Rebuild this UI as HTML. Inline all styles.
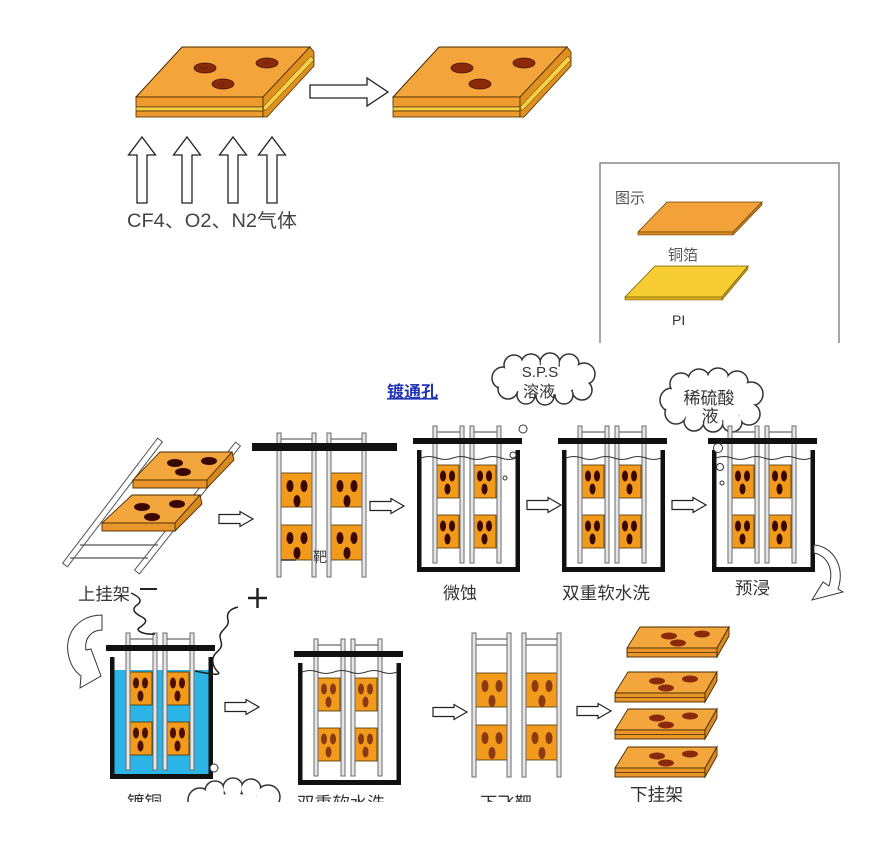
<!DOCTYPE html>
<html><head><meta charset="utf-8"><style>
html,body{margin:0;padding:0;background:#fff;}
svg{display:block;}
text{font-family:"Liberation Sans","Noto Sans CJK SC",sans-serif;}
</style></head><body>
<svg width="885" height="844" viewBox="0 0 885 844" xmlns="http://www.w3.org/2000/svg">
<defs>
 <g id="bigboard">
  <polygon points="182,47 310,47 263,97 136,97" fill="#F3A53C" stroke="#4a2a00" stroke-width="1"/>
  <rect x="136" y="97" width="127" height="10" fill="#EE9A2C" stroke="#4a2a00" stroke-width="0.8"/>
  <rect x="136" y="107" width="127" height="4" fill="#F5CF45" stroke="#4a2a00" stroke-width="0.6"/>
  <rect x="136" y="111" width="127" height="6" fill="#EE9A2C" stroke="#4a2a00" stroke-width="0.8"/>
  <polygon points="263,97 310,47 314,52 314,66 267,117 263,117" fill="#E0901F" stroke="#4a2a00" stroke-width="0.8"/>
  <polygon points="263,107 311,56 314,60 265,111" fill="#F5CF45" stroke="#4a2a00" stroke-width="0.5"/>
  <ellipse cx="205" cy="68" rx="11" ry="5" fill="#8B2A0A" stroke="#4a1500" stroke-width="0.8"/>
  <ellipse cx="267" cy="63" rx="11" ry="5" fill="#8B2A0A" stroke="#4a1500" stroke-width="0.8"/>
  <ellipse cx="223" cy="84" rx="11" ry="5" fill="#8B2A0A" stroke="#4a1500" stroke-width="0.8"/>
 </g>
 <g id="tank">
  <g stroke="#4a3000" stroke-width="0.8" fill="#F29A1C">
   <rect x="18" y="27" width="24" height="33"/>
   <rect x="55" y="27" width="24" height="33"/>
   <rect x="18" y="77" width="24" height="33"/>
   <rect x="55" y="77" width="24" height="33"/>
  </g>
  <g>
   <ellipse cx="26" cy="38" rx="3" ry="5.5"/><ellipse cx="35" cy="38" rx="3" ry="5.5"/><ellipse cx="30.5" cy="51" rx="3" ry="5.5"/>
   <ellipse cx="63" cy="38" rx="3" ry="5.5"/><ellipse cx="72" cy="38" rx="3" ry="5.5"/><ellipse cx="67.5" cy="51" rx="3" ry="5.5"/>
   <ellipse cx="26" cy="88" rx="3" ry="5.5"/><ellipse cx="35" cy="88" rx="3" ry="5.5"/><ellipse cx="30.5" cy="101" rx="3" ry="5.5"/>
   <ellipse cx="63" cy="88" rx="3" ry="5.5"/><ellipse cx="72" cy="88" rx="3" ry="5.5"/><ellipse cx="67.5" cy="101" rx="3" ry="5.5"/>
  </g>
  <g fill="#e6e6e6" stroke="#6a6a6a" stroke-width="1">
   <rect x="16" y="-12" width="4" height="137"/>
   <rect x="43" y="-12" width="4" height="137"/>
   <rect x="53" y="-12" width="4" height="137"/>
   <rect x="80" y="-12" width="4" height="137"/>
  </g>
  <g stroke="#6a6a6a" stroke-width="1.2">
   <line x1="20" y1="-6" x2="43" y2="-6"/><line x1="57" y1="-6" x2="80" y2="-6"/>
  </g>
  <rect x="-4" y="0" width="109" height="6" fill="#111"/>
  <rect x="0" y="12" width="4.5" height="122" fill="#111"/>
  <rect x="98.5" y="12" width="4.5" height="122" fill="#111"/>
  <rect x="0" y="129" width="103" height="5" fill="#111"/>
 </g>
 <g id="rack">
  <g stroke="#4a3000" stroke-width="0.8" fill="#F29A1C">
   <rect x="3" y="40" width="32" height="34"/>
   <rect x="53" y="40" width="32" height="34"/>
   <rect x="3" y="92" width="32" height="35"/>
   <rect x="53" y="92" width="32" height="35"/>
  </g>
  <g>
   <ellipse cx="13" cy="53" rx="3.5" ry="6"/><ellipse cx="27" cy="53" rx="3.5" ry="6"/><ellipse cx="20" cy="68" rx="3.5" ry="6"/>
   <ellipse cx="63" cy="53" rx="3.5" ry="6"/><ellipse cx="77" cy="53" rx="3.5" ry="6"/><ellipse cx="70" cy="68" rx="3.5" ry="6"/>
   <ellipse cx="13" cy="105" rx="3.5" ry="6"/><ellipse cx="27" cy="105" rx="3.5" ry="6"/><ellipse cx="20" cy="120" rx="3.5" ry="6"/>
   <ellipse cx="63" cy="105" rx="3.5" ry="6"/><ellipse cx="77" cy="105" rx="3.5" ry="6"/><ellipse cx="70" cy="120" rx="3.5" ry="6"/>
  </g>
  <g fill="#e6e6e6" stroke="#6a6a6a" stroke-width="1">
   <rect x="0" y="0" width="4" height="144"/>
   <rect x="35" y="0" width="4" height="144"/>
   <rect x="50" y="0" width="4" height="144"/>
   <rect x="85" y="0" width="4" height="144"/>
  </g>
  <g stroke="#6a6a6a" stroke-width="1.2">
   <line x1="4" y1="6" x2="35" y2="6"/><line x1="54" y1="6" x2="85" y2="6"/>
   <line x1="4" y1="12" x2="35" y2="12"/><line x1="54" y1="12" x2="85" y2="12"/>
  </g>
 </g>
 <g id="sboard">
  <polygon points="13,0 102,0 90,21 0,21" fill="#F3A63C" stroke="#4a2a00" stroke-width="0.9"/>
  <rect x="0" y="21" width="90" height="9" fill="#E8962A" stroke="#4a2a00" stroke-width="0.9"/>
  <line x1="0" y1="25.5" x2="90" y2="25.5" stroke="#4a2a00" stroke-width="0.8"/>
  <polygon points="90,21 102,0 102,9 90,30" fill="#D88A22" stroke="#4a2a00" stroke-width="0.9"/>
  <ellipse cx="42" cy="9" rx="8" ry="3.5" fill="#8B2A0A"/>
  <ellipse cx="75" cy="7" rx="8" ry="3.5" fill="#8B2A0A"/>
  <ellipse cx="51" cy="16" rx="8" ry="3.5" fill="#8B2A0A"/>
 </g>
</defs>

<rect width="885" height="844" fill="#fff"/>

<!-- ===== TOP SECTION ===== -->
<use href="#bigboard"/>
<use href="#bigboard" x="257"/>
<g stroke="#5a2000" stroke-width="0.8" fill="none">
 <path d="M199,66 l5,3 l4,-2 M263,62 l4,2 l3,-3 M218,83 l4,3 l2,-4"/>
</g>
<polygon points="310,85 367,85 367,78 388,92 367,106 367,98 310,98" fill="#fff" stroke="#222" stroke-width="1.3"/>
<g fill="#fff" stroke="#222" stroke-width="1.3">
 <polygon points="137,203 137,155 128.5,155 142,137 155.5,155 147,155 147,203"/>
 <polygon points="182,203 182,155 173.5,155 187,137 200.5,155 192,155 192,203"/>
 <polygon points="228,203 228,155 219.5,155 233,137 246.5,155 238,155 238,203"/>
 <polygon points="267,203 267,155 258.5,155 272,137 285.5,155 277,155 277,203"/>
</g>
<text x="127" y="227" font-size="19" fill="#444" textLength="170" lengthAdjust="spacingAndGlyphs">CF4、O2、N2气体</text>

<!-- legend -->
<path d="M600,343 V163 H839 V343" fill="none" stroke="#888" stroke-width="1.5"/>
<text x="615" y="203" font-size="15" fill="#555">图示</text>
<polygon points="667,202 762,202 733,232 638,232" fill="#F3A23A" stroke="#6a4000" stroke-width="0.8"/>
<polygon points="638,232 733,232 733,235 638,235" fill="#D48A20" stroke="#6a4000" stroke-width="0.6"/>
<polygon points="733,232 762,202 762,205 733,235" fill="#C88020" stroke="#6a4000" stroke-width="0.6"/>
<text x="668" y="260" font-size="15" fill="#555">铜箔</text>
<polygon points="655,266 748,266 722,297 625,297" fill="#F6CD33" stroke="#7a6000" stroke-width="0.8"/>
<polygon points="625,297 722,297 722,300 625,300" fill="#D8AA20" stroke="#7a6000" stroke-width="0.6"/>
<polygon points="722,297 748,266 748,269 722,300" fill="#C89A20" stroke="#7a6000" stroke-width="0.6"/>
<text x="672" y="325" font-size="14" fill="#333">PI</text>

<!-- ===== MIDDLE ROW ===== -->
<text x="387" y="397" font-size="16" font-weight="bold" fill="#2233b8" text-decoration="underline" textLength="51" lengthAdjust="spacingAndGlyphs">镀通孔</text>

<!-- clouds -->
<g stroke="#333" stroke-width="1.5" fill="#fff">
 <circle cx="503" cy="378" r="11"/><circle cx="514" cy="365" r="10"/><circle cx="531" cy="364" r="10"/>
 <circle cx="550" cy="363" r="10"/><circle cx="569" cy="364" r="10"/><circle cx="584" cy="374" r="11"/>
 <circle cx="582" cy="390" r="10"/><circle cx="564" cy="395" r="9"/><circle cx="545" cy="396" r="9"/>
 <circle cx="526" cy="395" r="9"/><circle cx="508" cy="389" r="10"/>
</g>
<g fill="#fff">
 <circle cx="503" cy="378" r="9.8"/><circle cx="514" cy="365" r="8.8"/><circle cx="531" cy="364" r="8.8"/>
 <circle cx="550" cy="363" r="8.8"/><circle cx="569" cy="364" r="8.8"/><circle cx="584" cy="374" r="9.8"/>
 <circle cx="582" cy="390" r="8.8"/><circle cx="564" cy="395" r="7.8"/><circle cx="545" cy="396" r="7.8"/>
 <circle cx="526" cy="395" r="7.8"/><circle cx="508" cy="389" r="8.8"/>
 <ellipse cx="543" cy="380" rx="38" ry="15"/>
</g>
<text x="540" y="377" font-size="15" fill="#333" text-anchor="middle">S.P.S</text>
<text x="539" y="397" font-size="16" fill="#333" text-anchor="middle">溶液</text>

<g stroke="#333" stroke-width="1.5" fill="#fff">
 <circle cx="672" cy="400" r="12"/><circle cx="681" cy="384" r="11"/><circle cx="699" cy="380" r="11"/>
 <circle cx="718" cy="379" r="11"/><circle cx="737" cy="382" r="11"/><circle cx="751" cy="394" r="12"/>
 <circle cx="749" cy="414" r="11"/><circle cx="732" cy="422" r="10"/><circle cx="713" cy="422" r="10"/>
 <circle cx="694" cy="421" r="10"/><circle cx="676" cy="413" r="11"/>
</g>
<g fill="#fff">
 <circle cx="672" cy="400" r="10.8"/><circle cx="681" cy="384" r="9.8"/><circle cx="699" cy="380" r="9.8"/>
 <circle cx="718" cy="379" r="9.8"/><circle cx="737" cy="382" r="9.8"/><circle cx="751" cy="394" r="10.8"/>
 <circle cx="749" cy="414" r="9.8"/><circle cx="732" cy="422" r="8.8"/><circle cx="713" cy="422" r="8.8"/>
 <circle cx="694" cy="421" r="8.8"/><circle cx="676" cy="413" r="9.8"/>
 <ellipse cx="711" cy="401" rx="40" ry="20"/>
</g>
<text x="709" y="404" font-size="17" fill="#333" text-anchor="middle">稀硫酸</text>
<text x="710" y="422" font-size="17" fill="#333" text-anchor="middle">液</text>

<!-- diagonal hanging rack -->
<g fill="#fff" stroke="#555" stroke-width="1">
 <polygon points="157.6,438.2 162.4,441.8 67.4,566.8 62.6,563.2"/>
 <polygon points="235.6,442.1 240.4,445.9 139.4,573.9 134.6,570.1"/>
</g>
<g stroke="#555" stroke-width="1.2">
 <line x1="80" y1="545" x2="158" y2="545"/>
 <line x1="70" y1="558" x2="148" y2="558"/>
</g>
<g stroke="#4a2a00" stroke-width="0.9">
 <polygon points="160,452 232,452 207,480 133,480" fill="#F3A63C"/>
 <rect x="133" y="480" width="74" height="8" fill="#E8962A"/>
 <polygon points="207,480 232,452 234,460 207,488" fill="#D88A22"/>
 <polygon points="132,495 200,495 175,523 102,523" fill="#F3A63C"/>
 <rect x="102" y="523" width="73" height="8" fill="#E8962A"/>
 <polygon points="175,523 200,495 202,504 175,531" fill="#D88A22"/>
</g>
<g fill="#3a0800">
 <ellipse cx="175" cy="463" rx="8" ry="4"/><ellipse cx="209" cy="461" rx="8" ry="4"/><ellipse cx="183" cy="472" rx="8" ry="4"/>
 <ellipse cx="142" cy="507" rx="8" ry="4"/><ellipse cx="177" cy="504" rx="8" ry="4"/><ellipse cx="152" cy="517" rx="8" ry="4"/>
</g>
<text x="78" y="600" font-size="17" fill="#333" textLength="52" lengthAdjust="spacingAndGlyphs">上挂架</text>
<line x1="140" y1="589" x2="157" y2="589" stroke="#222" stroke-width="2"/>

<!-- 飞靶 rack middle -->
<use href="#rack" x="277" y="433" fill="#3a0800"/>
<rect x="252" y="443" width="145" height="8" fill="#111"/>
<line x1="281" y1="560" x2="296" y2="560" stroke="#333" stroke-width="1.5"/>
<text x="313" y="562" font-size="14" fill="#444">靶</text>

<!-- tanks middle -->
<use href="#tank" x="417" y="438" fill="#3a0800"/>
<use href="#tank" x="562" y="438" fill="#3a0800"/>
<use href="#tank" x="712" y="438" fill="#3a0800"/>
<g fill="none" stroke="#333" stroke-width="1">
 <path d="M421,458 q8,-3 16,0 t16,0 t16,0 t16,0 t16,0 t15,0"/>
 <path d="M566,458 q8,-3 16,0 t16,0 t16,0 t16,0 t16,0 t15,0"/>
 <path d="M716,458 q8,-3 16,0 t16,0 t16,0 t16,0 t16,0 t15,0"/>
</g>
<g fill="#fff" stroke="#333" stroke-width="1">
 <circle cx="523" cy="429" r="4"/><circle cx="513" cy="455" r="3"/><circle cx="505" cy="478" r="2"/>
 <circle cx="718" cy="448" r="4.5"/><circle cx="720" cy="467" r="3.5"/><circle cx="722" cy="483" r="2"/>
</g>

<!-- small arrows -->
<g fill="#fff" stroke="#222" stroke-width="1.2">
 <polygon points="219,514.5 240,514.5 240,511.5 253,519 240,526.5 240,523.5 219,523.5"/>
 <polygon points="370,501.5 391,501.5 391,498.5 404,506 391,513.5 391,510.5 370,510.5"/>
 <polygon points="527,500.5 548,500.5 548,497.5 561,505 548,512.5 548,509.5 527,509.5"/>
 <polygon points="672,500.5 693,500.5 693,497.5 706,505 693,512.5 693,509.5 672,509.5"/>
 <polygon points="225,702.5 246,702.5 246,699.5 259,707 246,714.5 246,711.5 225,711.5"/>
 <polygon points="433,707.5 454,707.5 454,704.5 467,712 454,719.5 454,716.5 433,716.5"/>
 <polygon points="577,706.5 598,706.5 598,703.5 611,711 598,718.5 598,715.5 577,715.5"/>
</g>

<!-- curved arrows -->
<path d="M814,545 C832,546 846,566 838,589 L843,592 L812,600 L823,582 L829,586 C834,570 828,556 814,553 Z" fill="#fff" stroke="#333" stroke-width="1"/>
<path d="M102,615 L102,630 C92,630 84,638 86,650 L91,649 L101,676 L80,688 L81,676 C70,668 64,650 70,635 C75,622 88,615 102,615 Z" fill="#fff" stroke="#333" stroke-width="1"/>

<text x="443" y="599" font-size="17" fill="#333" textLength="34" lengthAdjust="spacingAndGlyphs">微蚀</text>
<text x="562" y="599" font-size="17" fill="#333" textLength="88" lengthAdjust="spacingAndGlyphs">双重软水洗</text>
<text x="735" y="594" font-size="17" fill="#333" textLength="35" lengthAdjust="spacingAndGlyphs">预浸</text>

<!-- ===== BOTTOM ROW ===== -->
<!-- plating tank -->
<rect x="114" y="670" width="95" height="107" fill="#2BB5E6"/>
<use href="#tank" x="110" y="645" fill="#4a1000"/>
<circle cx="214" cy="768" r="4" fill="#fff" stroke="#333" stroke-width="1"/>
<!-- wires -->
<path d="M131,593 C140,597 143,601 137,605 S134,613 142,617 S143,625 139,628 S145,635 155,634" fill="none" stroke="#222" stroke-width="1.5"/>
<path d="M238,607 C230,609 226,613 228,620 S220,630 220,636 S225,645 217,652 S214,668 218,672 S210,674 195,671" fill="none" stroke="#222" stroke-width="1.5"/>
<line x1="248" y1="598" x2="267" y2="598" stroke="#222" stroke-width="2.5"/>
<line x1="257.5" y1="588" x2="257.5" y2="608" stroke="#222" stroke-width="2.5"/>

<!-- bottom rinse tank -->
<use href="#tank" x="298" y="651" fill="#8B3A14"/>
<path d="M302,672 q8,-3 16,0 t16,0 t16,0 t16,0 t16,0 t15,0" fill="none" stroke="#333" stroke-width="1"/>

<!-- 下飞靶 rack -->
<use href="#rack" x="472" y="633" fill="#8B3A14"/>

<!-- stacked boards -->
<use href="#sboard" x="627" y="627"/>
<use href="#sboard" x="615" y="672"/>
<use href="#sboard" x="615" y="709"/>
<use href="#sboard" x="615" y="747"/>

<!-- bottom cloud -->
<g stroke="#333" stroke-width="1.5" fill="#fff">
 <circle cx="200" cy="800" r="12"/><circle cx="215" cy="791" r="10"/><circle cx="233" cy="788" r="10"/>
 <circle cx="251" cy="789" r="10"/><circle cx="268" cy="797" r="12"/>
</g>
<g fill="#fff">
 <circle cx="200" cy="800" r="10.8"/><circle cx="215" cy="791" r="8.8"/><circle cx="233" cy="788" r="8.8"/>
 <circle cx="251" cy="789" r="8.8"/><circle cx="268" cy="797" r="10.8"/>
 <ellipse cx="233" cy="806" rx="40" ry="12"/>
</g>

<text x="127" y="808" font-size="17" fill="#333" textLength="35" lengthAdjust="spacingAndGlyphs">镀铜</text>
<text x="297" y="809" font-size="17" fill="#333" textLength="88" lengthAdjust="spacingAndGlyphs">双重软水洗</text>
<text x="480" y="809" font-size="17" fill="#333" textLength="52" lengthAdjust="spacingAndGlyphs">下飞靶</text>
<text x="630" y="801" font-size="18" fill="#333" textLength="53" lengthAdjust="spacingAndGlyphs">下挂架</text>

<rect x="0" y="802" width="885" height="42" fill="#fff"/>
</svg>
</body></html>
